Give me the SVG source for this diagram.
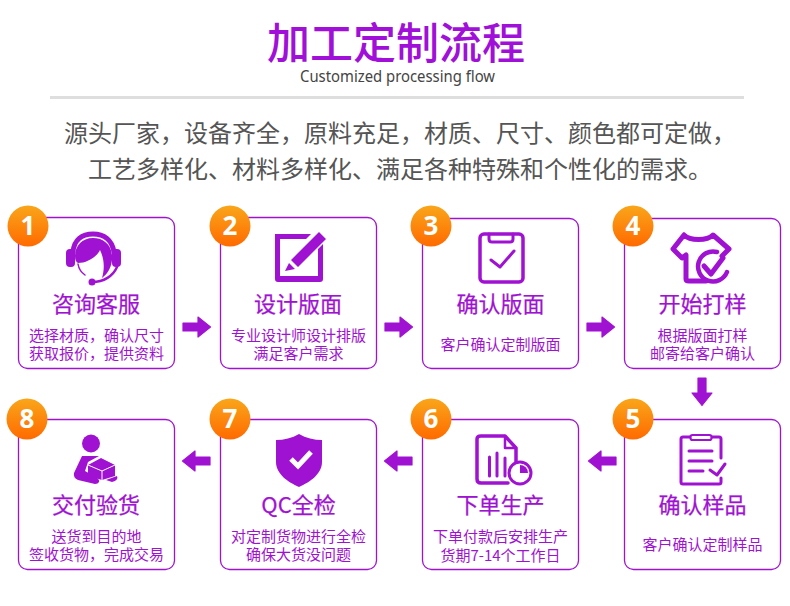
<svg xmlns="http://www.w3.org/2000/svg" width="790" height="606" viewBox="0 0 790 606">
<style>
text{font-family:"Noto Sans CJK SC","Noto Sans",sans-serif;text-anchor:middle}
.box{fill:#fff;stroke:#a012d2;stroke-width:1.3}
.t{font-size:22px;fill:#a012d2;font-weight:400;stroke:#a012d2;stroke-width:.25}
.d{font-size:15px;fill:#a012d2}
.n{font-family:"Noto Sans","Open Sans",sans-serif;font-size:26px;font-weight:700;fill:#fff}
.i{fill:#a012d2}
.o{fill:none;stroke:#a012d2;stroke-linejoin:round;stroke-linecap:round}
</style>
<defs>
<linearGradient id="g" x1="0" y1="0" x2="0" y2="1"><stop offset="0" stop-color="#f9a61a"/><stop offset="1" stop-color="#ff6a00"/></linearGradient>
<path id="ar" d="M0-4H15V-10L27.500 0 15 10V4H0Z" fill="#a012d2" stroke="#a012d2" stroke-width="1.200" stroke-linejoin="round"/>
</defs>
<rect width="790" height="606" fill="#fff"/>
<g id="header">
<text x="396" y="59" font-size="43" fill="#a010d8" font-weight="500">加工定制流程</text>
<text x="397.500" y="82" textLength="195" lengthAdjust="spacingAndGlyphs" style="font-size:16px;font-family:'Noto Sans',sans-serif" fill="#444">Customized processing flow</text>
<rect x="50" y="96" width="694" height="3" fill="#dedede"/>
<text x="400" y="142" font-size="24" fill="#555">源头厂家，设备齐全，原料充足，材质、尺寸、颜色都可定做，</text>
<text x="400" y="178" font-size="24" fill="#555">工艺多样化、材料多样化、满足各种特殊和个性化的需求。</text>
</g>
<g id="connectors">
<use href="#ar" x="183" y="327"/>
<use href="#ar" x="385" y="327"/>
<use href="#ar" x="587" y="327"/>
<use href="#ar" transform="translate(702 378) rotate(90)"/>
<use href="#ar" transform="translate(616 461) rotate(180)"/>
<use href="#ar" transform="translate(412 461) rotate(180)"/>
<use href="#ar" transform="translate(210 461) rotate(180)"/>
</g>
<g id="node1">
<rect class="box" x="18.500" y="217.500" width="156" height="151" rx="9"/>
<circle cx="28" cy="226" r="20.500" fill="url(#g)"/><text class="n" x="28" y="235">1</text>
<path class="o" stroke-width="5" d="M73 252C74 240 82 234 93 234 104 234 112 240 114 252"/>
<rect class="i" x="66" y="249" width="9" height="18" rx="4"/>
<rect class="i" x="112" y="249" width="9" height="18" rx="4"/>
<path class="i" d="M78 263C86 263 96 258 100 250 104 258 105 268 102 278 108 274 113 265 112 255 111 244 103 238 93 238 82 238 75 246 75 256 75 260 76 262 78 263Z"/>
<path class="o" stroke-width="1.500" d="M78 264C79 270 82 273 85 275"/>
<path class="o" stroke-width="2.500" d="M117 267C113 276 104 282 92 282"/>
<circle class="i" cx="92" cy="282" r="3.500"/>
<text class="t" x="96" y="312">咨询客服</text>
<text class="d" x="96.500" y="341">选择材质，确认尺寸</text>
<text class="d" x="96.500" y="359">获取报价，提供资料</text>
</g>
<g id="node2">
<rect class="box" x="220.500" y="217.500" width="156" height="151" rx="9"/>
<circle cx="230" cy="226" r="20.500" fill="url(#g)"/><text class="n" x="230" y="235">2</text>
<path class="i" d="M275 234H311L306 239H280V276H318V249L323 244V279Q323 282 320 282H278Q275 282 275 279Z"/>
<path class="i" d="M319 232 326 239 298 267 291 260ZM289 263 295 269 285 271Z"/>
<text class="t" x="298" y="312">设计版面</text>
<text class="d" x="298.500" y="341">专业设计师设计排版</text>
<text class="d" x="298.500" y="359">满足客户需求</text>
</g>
<g id="node3">
<rect class="box" x="422.500" y="218.500" width="156" height="150" rx="9"/>
<circle cx="431" cy="226" r="20.500" fill="url(#g)"/><text class="n" x="431" y="235">3</text>
<rect x="480" y="234" width="43" height="48" rx="4" fill="none" stroke="#a012d2" stroke-width="3.500"/>
<path class="o" stroke-width="3" d="M489 234V239Q489 242 492 242H510Q513 242 513 239V234"/>
<path class="o" stroke-width="3" d="M491 260 500 267 514 251"/>
<text class="t" x="500.500" y="312">确认版面</text>
<text class="d" x="500.500" y="350">客户确认定制版面</text>
</g>
<g id="node4">
<rect class="box" x="624.500" y="218.500" width="156" height="150" rx="9"/>
<circle cx="633" cy="226" r="20.500" fill="url(#g)"/><text class="n" x="633" y="235">4</text>
<path class="o" stroke-width="5" d="M684 235C690 241 707 241 713 235L729 249 722 256M684 235 673 249 682 258 686 255V279Q686 281 689 281H706"/>
<path class="o" stroke-width="4.500" d="M717 252A15 15 0 1 0 727 272"/>
<path class="o" stroke-width="5" d="M704 266 711 274 723 258"/>
<text class="t" x="702.500" y="312">开始打样</text>
<text class="d" x="702.500" y="341">根据版面打样</text>
<text class="d" x="702.500" y="359">邮寄给客户确认</text>
</g>
<g id="node5">
<rect class="box" x="624.500" y="419.500" width="156" height="150" rx="9"/>
<circle cx="633" cy="419" r="20.500" fill="url(#g)"/><text class="n" x="633" y="428">5</text>
<path class="o" stroke-width="3" d="M721 458V439Q721 437 719 437H683Q681 437 681 439V482Q681 484 683 484H719Q721 484 721 482V478"/>
<rect x="690.500" y="435" width="21" height="5" rx="2" fill="#fff" stroke="#a012d2" stroke-width="2.200"/>
<path class="o" stroke-width="3" d="M689 451H712M689 461H712M689 471H703M710 470 717 475 725 464"/>
<text class="t" x="702.500" y="513">确认样品</text>
<text class="d" x="702.500" y="550">客户确认定制样品</text>
</g>
<g id="node6">
<rect class="box" x="422.500" y="419.500" width="156" height="150" rx="9"/>
<circle cx="431" cy="419" r="20.500" fill="url(#g)"/><text class="n" x="431" y="428">6</text>
<path class="o" stroke-width="3.500" d="M508 483H481Q477 483 477 479V439Q477 436 481 436H505L516 448V463"/>
<path class="o" stroke-width="2.500" d="M505 436V448H516"/>
<path class="o" stroke-width="3" d="M489.500 457V476M497 453V476M505 458V476"/>
<circle cx="520" cy="473" r="11" fill="#fff" stroke="#a012d2" stroke-width="3"/>
<path class="i" d="M520 473V465A8 8 0 0 1 528 473Z"/>
<text class="t" x="500.500" y="513">下单生产</text>
<text class="d" x="500.500" y="542">下单付款后安排生产</text>
<text class="d" x="500.500" y="561">货期7-14个工作日</text>
</g>
<g id="node7">
<rect class="box" x="220.500" y="419.500" width="156" height="150" rx="9"/>
<circle cx="230" cy="419" r="20.500" fill="url(#g)"/><text class="n" x="230" y="428">7</text>
<path class="i" d="M299 434C306 438 314 440 322 440V462C322 474 310 482 299 487 288 482 276 474 276 462V440C284 440 292 438 299 434Z"/>
<path d="M291 459 298 466 311 452" fill="none" stroke="#fff" stroke-width="5"/>
<text class="t" x="298.500" y="513">QC全检</text>
<text class="d" x="298.500" y="542">对定制货物进行全检</text>
<text class="d" x="298.500" y="560">确保大货没问题</text>
</g>
<g id="node8">
<rect class="box" x="18.500" y="419.500" width="156" height="150" rx="9"/>
<circle cx="27" cy="419" r="20.500" fill="url(#g)"/><text class="n" x="27" y="428">8</text>
<circle class="i" cx="91" cy="443.500" r="9"/>
<path class="i" d="M82 456H99L88 462 85 471 96 477Q100 480 99 482 98 484 95 484L78 480Q73 478 74 473Z"/>
<path class="i" d="M101 458 115 465V476L102 480 88 476V465Z M106 480 117 476Q119 480 112 482Z"/>
<path d="M88 465 102 471 115 465M102 471V480" fill="none" stroke="#fff" stroke-width="1"/>
<text class="t" x="96" y="513">交付验货</text>
<text class="d" x="96.500" y="542">送货到目的地</text>
<text class="d" x="96.500" y="560">签收货物，完成交易</text>
</g>
</svg>
